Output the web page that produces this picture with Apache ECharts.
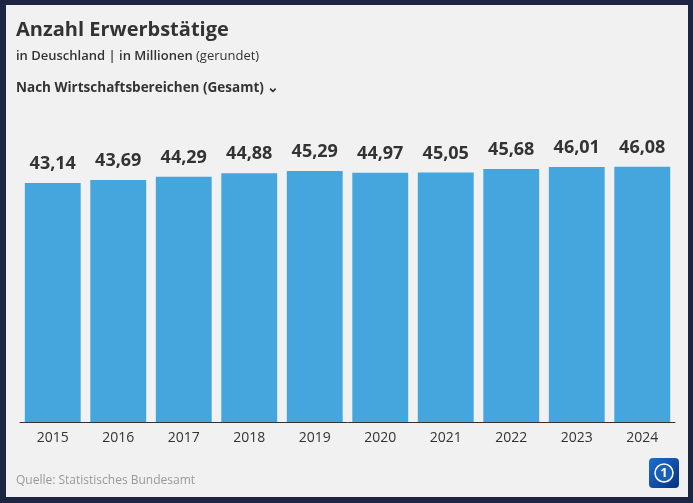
<!DOCTYPE html>
<html>
<head>
<meta charset="utf-8">
<script src="https://cdn.jsdelivr.net/npm/echarts@6/dist/echarts.min.js"></script>
<style>
html,body{margin:0;padding:0;background:#1c2541;}
#c{width:693px;height:503px;}
</style>
</head>
<body>
<div id="c"></div>
<script>
const years = ['2015','2016','2017','2018','2019','2020','2021','2022','2023','2024'];
const values = [43.14, 43.69, 44.29, 44.88, 45.29, 44.97, 45.05, 45.68, 46.01, 46.08];
const titleText = 'Anzahl Erwerbstätige';
const subtitleBold = 'in Deuschland | in Millionen';
const subtitleNormal = '(gerundet)';
const selectorText = 'Nach Wirtschaftsbereichen (Gesamt)';
const sourceText = 'Quelle: Statistisches Bundesamt';

const FONT = '"Open Sans", "Noto Sans", sans-serif';
const chart = echarts.init(document.getElementById('c'));
chart.setOption({
  backgroundColor: '#1c2541',
  animation: false,
  grid: {left: 20, right: 18, top: 145, bottom: 81},
  xAxis: {
    type: 'category',
    data: years,
    axisLine: {lineStyle: {color: '#333', width: 1}},
    axisTick: {show: false},
    axisLabel: {color: '#333', fontSize: 14, fontFamily: FONT, margin: 9}
  },
  yAxis: {
    type: 'value', min: 0, max: 50,
    show: false
  },
  series: [{
    type: 'bar',
    data: values,
    barCategoryGap: '14.7%',
    itemStyle: {color: '#45a5dd'},
    label: {
      show: true, position: 'top', distance: 10,
      color: '#333', fontSize: 18, fontWeight: 'bold', fontFamily: FONT,
      formatter: p => p.value.toFixed(2).replace('.', ',')
    }
  }],
  graphic: [
    {type: 'rect', z: -10, shape: {x: 6, y: 5, width: 682, height: 492}, style: {fill: '#f1f1f1'}},
    {type: 'text', left: 16, top: 20, style: {text: titleText, font: 'bold 20px ' + FONT, fill: '#333'}},
    {type: 'text', left: 16, top: 50, style: {
      text: '{b|' + subtitleBold + '} {n|' + subtitleNormal + '}',
      rich: {
        b: {font: '600 13px ' + FONT, fill: '#333'},
        n: {font: '13px ' + FONT, fill: '#333'}
      }
    }},
    {type: 'text', left: 16, top: 81, style: {text: selectorText + ' \u2304', font: 'bold 13.5px ' + FONT, fill: '#333'}},
    {type: 'text', left: 16, top: 475, style: {text: sourceText, font: '12px ' + FONT, fill: '#999'}},
    {type: 'rect', shape: {x: 649, y: 458, width: 30, height: 30, r: 4}, style: {
      fill: new echarts.graphic.LinearGradient(0, 0, 1, 1, [{offset: 0, color: '#1d6fd0'}, {offset: 1, color: '#06307f'}])
    }},
    {type: 'circle', shape: {cx: 664, cy: 473, r: 9}, style: {fill: '#1a5fb8', stroke: '#ffffff', lineWidth: 1.5}},
    {type: 'text', x: 664, y: 473, style: {text: '1', font: 'bold 13px ' + FONT, fill: '#ffffff', align: 'center', verticalAlign: 'middle'}}
  ]
});
</script>
</body>
</html>
